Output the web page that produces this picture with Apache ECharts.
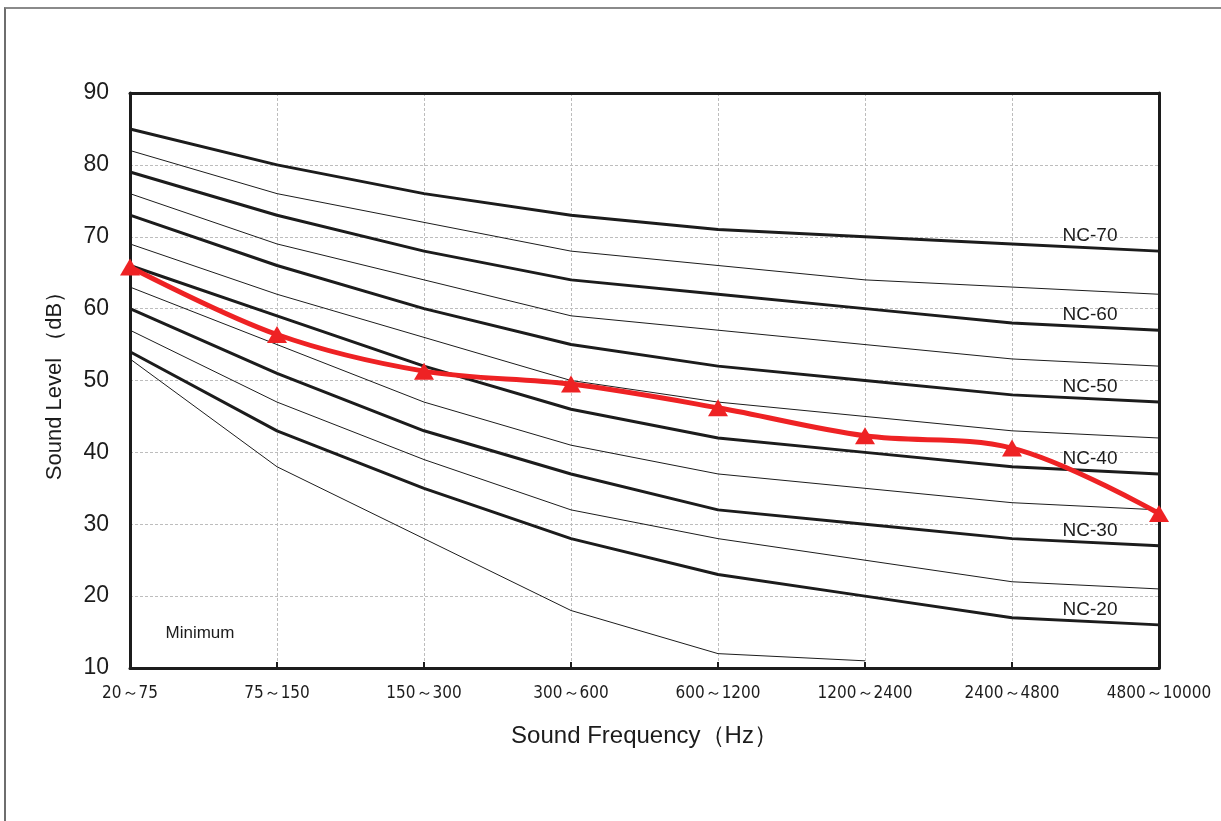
<!DOCTYPE html>
<html>
<head>
<meta charset="utf-8">
<script src="https://cdn.jsdelivr.net/npm/echarts@6/dist/echarts.min.js"></script>
<style>
html,body{margin:0;padding:0;background:#fff;}
#wrap{position:relative;width:1221px;height:821px;overflow:hidden;}
#frame{position:absolute;left:4px;top:7px;width:1300px;height:900px;border-left:2px solid #6e6e6e;border-top:2px solid #8a8a8a;pointer-events:none;}
#chart{position:absolute;left:0;top:0;width:1221px;height:821px;}
</style>
</head>
<body>
<div id="wrap">
<div id="chart"></div>
<div id="frame"></div>
</div>
<script>
// Categories (octave bands, Hz)
const categories = ['20～75','75～150','150～300','300～600','600～1200','1200～2400','2400～4800','4800～10000'];

// NC curves (dB)
const nc70 = [85, 80, 76, 73, 71, 70, 69, 68];
const nc65 = [82, 76, 72, 68, 66, 64, 63, 62];
const nc60 = [79, 73, 68, 64, 62, 60, 58, 57];
const nc55 = [76, 69, 64, 59, 57, 55, 53, 52];
const nc50 = [73, 66, 60, 55, 52, 50, 48, 47];
const nc45 = [69, 62, 56, 50, 47, 45, 43, 42];
const nc40 = [66, 59, 52, 46, 42, 40, 38, 37];
const nc35 = [63, 55, 47, 41, 37, 35, 33, 32];
const nc30 = [60, 51, 43, 37, 32, 30, 28, 27];
const nc25 = [57, 47, 39, 32, 28, 25, 22, 21];
const nc20 = [54, 43, 35, 28, 23, 20, 17, 16];
const minimum = [53, 38, 28, 18, 12, 11];

// Measured sound level (dB)
const measured = [65.8, 56.4, 51.3, 49.5, 46.2, 42.3, 40.6, 31.5];

const yTicks = {min: 10, max: 90, interval: 10};

const curves = [
  {name: 'NC-70', data: nc70, thick: true, label: true},
  {name: 'NC-65', data: nc65, thick: false},
  {name: 'NC-60', data: nc60, thick: true, label: true},
  {name: 'NC-55', data: nc55, thick: false},
  {name: 'NC-50', data: nc50, thick: true, label: true},
  {name: 'NC-45', data: nc45, thick: false},
  {name: 'NC-40', data: nc40, thick: true, label: true},
  {name: 'NC-35', data: nc35, thick: false},
  {name: 'NC-30', data: nc30, thick: true, label: true},
  {name: 'NC-25', data: nc25, thick: false},
  {name: 'NC-20', data: nc20, thick: true, label: true},
  {name: 'Minimum', data: minimum, thick: false, minLabel: true}
];

const labelFont = "'Liberation Sans', Arial, sans-serif";
const narrowFont = "'Liberation Sans Narrow', 'Arial Narrow', 'DejaVu Sans Condensed', 'Liberation Sans', sans-serif";
const ink = '#1c1c1c';

const series = curves.map(c => {
  const s = {
    name: c.name,
    type: 'line',
    data: c.data,
    symbol: 'none',
    silent: true,
    z: c.thick ? 3 : 2,
    lineStyle: {color: ink, width: c.thick ? 3 : 1}
  };
  if (c.label) {
    s.markPoint = {
      symbol: 'circle', symbolSize: 0, silent: true,
      data: [{coord: [6, c.data[6]], value: c.name}],
      label: {show: true, formatter: c.name, color: ink, fontSize: 19,
              fontFamily: labelFont, offset: [78, -8]}
    };
  }
  if (c.minLabel) {
    s.markPoint = {
      symbol: 'circle', symbolSize: 0, silent: true,
      data: [{coord: [0, 15], value: c.name}],
      label: {show: true, formatter: 'Minimum', color: ink, fontSize: 17,
              fontFamily: labelFont, offset: [70, 1]}
    };
  }
  return s;
});

series.push({
  name: 'Measured',
  type: 'line',
  data: measured,
  smooth: 0.35,
  symbol: 'triangle',
  symbolSize: [20, 17],
  z: 10,
  lineStyle: {color: '#ee2224', width: 5},
  itemStyle: {color: '#ee2224'}
});

const frameAxis = {
  axisLine: {show: true, lineStyle: {color: ink, width: 3}},
  axisTick: {show: false},
  axisLabel: {show: false},
  splitLine: {show: false}
};

const chart = echarts.init(document.getElementById('chart'), null, {renderer: 'canvas'});
chart.setOption({
  backgroundColor: '#fff',
  animation: false,
  grid: {left: 130, right: 62, top: 93, bottom: 153},
  xAxis: [{
    type: 'category',
    data: categories,
    boundaryGap: false,
    name: 'Sound Frequency（Hz）',
    nameLocation: 'middle',
    nameGap: 56,
    nameTextStyle: {fontSize: 24, color: ink, fontFamily: labelFont},
    axisLine: {lineStyle: {color: ink, width: 3}},
    axisTick: {show: true, inside: true, length: 6, lineStyle: {color: ink, width: 2}},
    axisLabel: {fontSize: 17, color: ink, margin: 17, fontFamily: narrowFont},
    splitLine: {show: true, lineStyle: {color: '#bdbdbd', type: [3, 2], width: 1}}
  }, Object.assign({type: 'category', data: categories, boundaryGap: false, position: 'top'}, frameAxis)],
  yAxis: [{
    type: 'value',
    min: yTicks.min, max: yTicks.max, interval: yTicks.interval,
    name: 'Sound Level （dB）',
    nameLocation: 'middle',
    nameGap: 64,
    nameTextStyle: {fontSize: 22, color: ink, fontFamily: labelFont},
    axisLine: {show: true, lineStyle: {color: ink, width: 3}},
    axisTick: {show: false},
    axisLabel: {fontSize: 23, color: ink, margin: 21, fontFamily: labelFont},
    splitLine: {show: true, lineStyle: {color: '#bdbdbd', type: [3, 2], width: 1}}
  }, Object.assign({type: 'value', min: yTicks.min, max: yTicks.max, interval: yTicks.interval, position: 'right'}, frameAxis)],
  series: series
});
</script>
</body>
</html>
